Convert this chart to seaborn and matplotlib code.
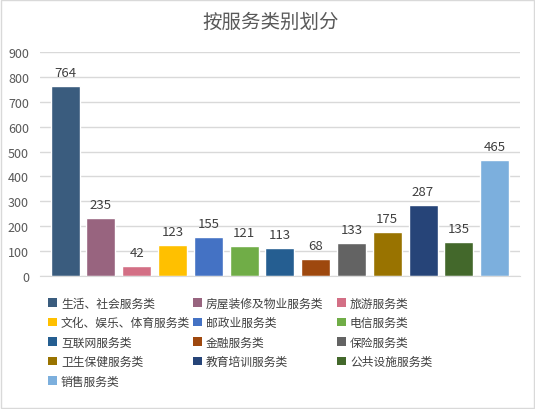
import matplotlib
matplotlib.use('Agg')
import pandas as pd
import matplotlib.pyplot as plt
import seaborn as sns
from matplotlib.patches import Patch, Rectangle

# data
categories = ['生活、社会服务类', '房屋装修及物业服务类', '旅游服务类',
              '文化、娱乐、体育服务类', '邮政业服务类', '电信服务类',
              '互联网服务类', '金融服务类', '保险服务类',
              '卫生保健服务类', '教育培训服务类', '公共设施服务类',
              '销售服务类']
counts = [764, 235, 42, 123, 155, 121, 113, 68, 133, 175, 287, 135, 465]
colors = ['#3A5C7E', '#98647F', '#D36F85', '#FFC000', '#4472C4', '#70AD47',
          '#255E91', '#9E480E', '#636363', '#997300', '#264478', '#43682B',
          '#7CAFDD']

sns.set_style('white')
plt.rcParams['font.family'] = ['Noto Sans CJK SC', 'DejaVu Sans']

df = pd.DataFrame({'category': categories, 'count': counts})

fig = plt.figure(figsize=(5.35, 4.10), dpi=100)
ax = fig.add_axes([0.0748, 0.3244, 0.8972, 0.5463])

sns.barplot(data=df, x='category', y='count', hue='category',
            palette=colors, width=0.81, dodge=False, legend=False,
            saturation=1, ax=ax)

for c in ax.containers:
    ax.bar_label(c, padding=5, fontsize=9.5, color='#404040')

ax.set_xlim(-0.70, 12.71)
ax.set_ylim(0, 900)
ax.set_yticks(range(0, 901, 100))
ax.set_xticks([])
ax.set_xlabel('')
ax.set_ylabel('')
ax.tick_params(axis='y', length=0, labelsize=9, labelcolor='#595959', pad=8)
ax.grid(axis='y', color='#D9D9D9', linewidth=1)
ax.set_axisbelow(True)
for side in ['top', 'right', 'left']:
    ax.spines[side].set_visible(False)
ax.spines['bottom'].set_color('#D9D9D9')

fig.text(0.505, 0.946, '按服务类别划分', ha='center', va='center',
         fontsize=14, color='#595959')

# legend laid out row by row, three fixed-width columns like the original
handles = [Patch(facecolor=col, edgecolor='none') for col in colors]
col_x = [48 / 535, 193 / 535, 337 / 535]
for i, x0 in enumerate(col_x):
    leg = fig.legend(handles[i::3], categories[i::3], ncol=1, loc='upper left',
                     bbox_to_anchor=(x0, 0.274), frameon=False, fontsize=8.5,
                     labelcolor='#404040', handlelength=0.75, handleheight=0.75,
                     handletextpad=0.35, labelspacing=0.55,
                     borderaxespad=0, borderpad=0)

fig.patches.append(Rectangle((0.002, 0.002), 0.996, 0.996, transform=fig.transFigure,
                             fill=False, edgecolor='#D9D9D9', linewidth=1))

plt.savefig('out.png', dpi=100)
